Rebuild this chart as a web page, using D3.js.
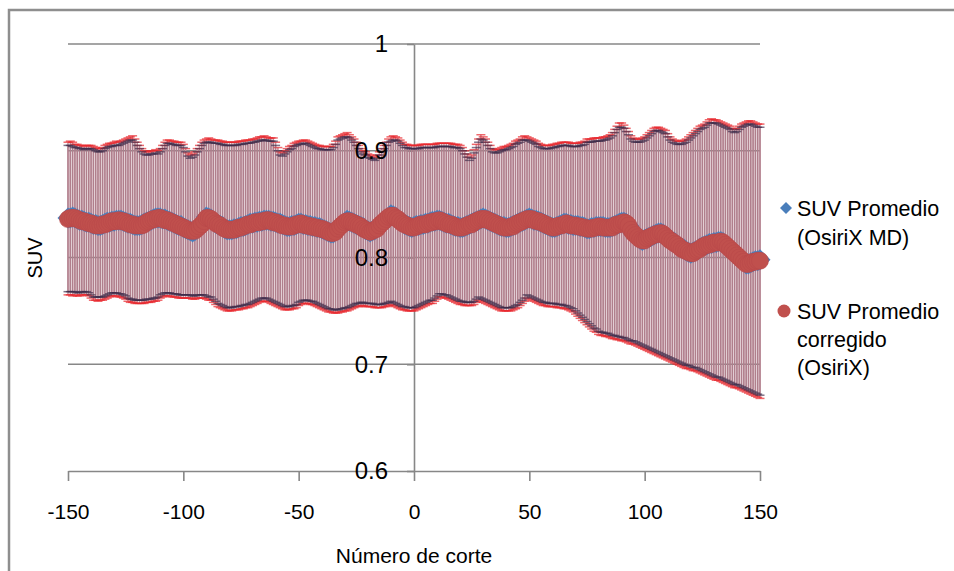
<!DOCTYPE html>
<html><head><meta charset="utf-8">
<script src="https://cdn.jsdelivr.net/npm/d3@7"></script>
<style>html,body{margin:0;padding:0;background:#fff}svg{display:block}text{font-family:"Liberation Sans",Arial,sans-serif}</style>
</head><body><svg id="c" width="954" height="571"></svg>
<script>
const sliceNumbers = [
-150,-149,-148,-147,-146,-145,-144,-143,-142,-141,-140,-139,-138,-137,-136,-135,-134,-133,-132,-131,
-130,-129,-128,-127,-126,-125,-124,-123,-122,-121,-120,-119,-118,-117,-116,-115,-114,-113,-112,-111,
-110,-109,-108,-107,-106,-105,-104,-103,-102,-101,-100,-99,-98,-97,-96,-95,-94,-93,-92,-91,
-90,-89,-88,-87,-86,-85,-84,-83,-82,-81,-80,-79,-78,-77,-76,-75,-74,-73,-72,-71,
-70,-69,-68,-67,-66,-65,-64,-63,-62,-61,-60,-59,-58,-57,-56,-55,-54,-53,-52,-51,
-50,-49,-48,-47,-46,-45,-44,-43,-42,-41,-40,-39,-38,-37,-36,-35,-34,-33,-32,-31,
-30,-29,-28,-27,-26,-25,-24,-23,-22,-21,-20,-19,-18,-17,-16,-15,-14,-13,-12,-11,
-10,-9,-8,-7,-6,-5,-4,-3,-2,-1,0,1,2,3,4,5,6,7,8,9,
10,11,12,13,14,15,16,17,18,19,20,21,22,23,24,25,26,27,28,29,
30,31,32,33,34,35,36,37,38,39,40,41,42,43,44,45,46,47,48,49,
50,51,52,53,54,55,56,57,58,59,60,61,62,63,64,65,66,67,68,69,
70,71,72,73,74,75,76,77,78,79,80,81,82,83,84,85,86,87,88,89,
90,91,92,93,94,95,96,97,98,99,100,101,102,103,104,105,106,107,108,109,
110,111,112,113,114,115,116,117,118,119,120,121,122,123,124,125,126,127,128,129,
130,131,132,133,134,135,136,137,138,139,140,141,142,143,144,145,146,147,148,149,150];

// SUV Promedio (OsiriX MD)
const mdMean = [
.837,.837,.838,.837,.836,.835,.835,.834,.833,.833, .832,.831,.831,.830,.830,.831,.832,.833,.833,.834,
.834,.835,.835,.835,.834,.833,.832,.832,.831,.830, .830,.830,.831,.832,.833,.834,.835,.836,.837,.837,
.837,.836,.836,.835,.834,.833,.832,.831,.830,.830, .828,.827,.826,.825,.824,.825,.827,.829,.831,.834,
.838,.837,.836,.834,.832,.831,.830,.829,.827,.826, .826,.826,.827,.827,.828,.829,.829,.830,.831,.832,
.832,.833,.833,.834,.834,.835,.835,.835,.834,.834, .833,.832,.832,.831,.830,.829,.829,.830,.830,.831,
.832,.832,.831,.831,.830,.830,.829,.829,.828,.828, .827,.826,.825,.824,.823,.823,.825,.827,.829,.831,
.833,.835,.834,.833,.832,.831,.830,.829,.828,.826, .825,.824,.825,.826,.828,.830,.832,.834,.836,.838,
.840,.839,.838,.836,.834,.833,.831,.830,.829,.828, .829,.830,.830,.831,.831,.832,.832,.833,.834,.834,
.835,.835,.834,.833,.832,.832,.831,.830,.829,.829, .828,.828,.829,.830,.831,.832,.833,.834,.835,.836,
.837,.836,.835,.834,.833,.832,.831,.830,.829,.829, .828,.828,.829,.830,.831,.832,.833,.834,.835,.836,
.837,.836,.835,.835,.834,.833,.832,.831,.830,.829, .828,.828,.829,.830,.831,.832,.832,.831,.831,.830,
.830,.830,.829,.829,.828,.827,.827,.828,.828,.829, .829,.829,.829,.828,.828,.828,.829,.830,.831,.832,
.833,.833,.832,.830,.827,.823,.821,.819,.817,.816, .817,.818,.819,.820,.821,.822,.823,.823,.822,.820,
.818,.817,.815,.814,.812,.810,.809,.808,.806,.805, .804,.805,.806,.807,.809,.810,.811,.812,.813,.813,
.814,.814,.815,.815,.814,.812,.810,.808,.806,.804, .802,.800,.798,.796,.794,.794,.795,.796,.797,.797,
.798];
const mdHigh = [
.905,.905,.904,.903,.903,.902,.902,.901,.902,.902, .902,.901,.900,.899,.899,.900,.902,.903,.904,.904,
.905,.905,.905,.906,.907,.908,.909,.910,.910,.908, .905,.902,.899,.897,.896,.896,.897,.897,.898,.897,
.899,.902,.905,.907,.907,.906,.906,.905,.905,.905, .903,.899,.895,.893,.894,.896,.899,.902,.905,.907,
.908,.908,.908,.907,.907,.907,.906,.906,.905,.905, .905,.905,.905,.905,.906,.906,.906,.907,.907,.907,
.908,.908,.909,.909,.910,.910,.910,.909,.909,.909, .905,.900,.896,.895,.897,.899,.901,.902,.904,.905,
.906,.906,.907,.907,.906,.905,.904,.903,.902,.902, .901,.901,.901,.901,.901,.903,.906,.910,.911,.912,
.913,.913,.912,.910,.908,.905,.902,.899,.897,.896, .894,.893,.892,.891,.893,.896,.899,.902,.905,.908,
.909,.910,.910,.909,.907,.905,.903,.903,.902,.902, .902,.902,.902,.903,.903,.903,.903,.903,.903,.903,
.904,.904,.904,.904,.904,.904,.904,.903,.903,.903, .902,.900,.897,.894,.891,.893,.898,.903,.908,.911,
.910,.908,.905,.902,.899,.898,.898,.899,.900,.901, .901,.902,.903,.904,.906,.907,.908,.910,.910,.910,
.909,.908,.907,.906,.904,.903,.902,.902,.902,.902, .903,.903,.904,.904,.905,.905,.905,.905,.904,.904,
.904,.904,.905,.905,.906,.908,.908,.908,.909,.909, .909,.909,.910,.910,.911,.912,.914,.917,.920,.922,
.922,.921,.918,.915,.911,.909,.908,.908,.908,.909, .910,.912,.914,.916,.918,.919,.919,.918,.917,.916,
.913,.910,.908,.907,.906,.906,.906,.907,.908,.910, .912,.914,.916,.918,.920,.921,.922,.924,.926,.926,
.926,.926,.925,.924,.923,.922,.921,.920,.918,.917, .918,.920,.922,.923,.924,.925,.925,.924,.923,.922,
.922];
const mdLow = [
.768,.768,.768,.768,.767,.767,.768,.768,.768,.767, .765,.763,.763,.763,.763,.763,.764,.765,.766,.767,
.767,.767,.766,.766,.765,.764,.762,.761,.761,.760, .760,.760,.760,.760,.761,.761,.761,.762,.762,.763,
.765,.766,.767,.767,.767,.766,.766,.766,.765,.765, .765,.765,.765,.765,.764,.764,.765,.765,.765,.765,
.764,.763,.763,.761,.759,.757,.756,.755,.754,.753, .753,.753,.754,.754,.754,.755,.755,.756,.756,.757,
.758,.759,.760,.761,.762,.762,.762,.761,.760,.759, .758,.757,.756,.755,.754,.754,.754,.755,.755,.756,
.758,.759,.760,.760,.760,.759,.759,.758,.757,.756, .755,.754,.753,.752,.752,.751,.751,.751,.752,.752,
.753,.753,.754,.755,.756,.757,.757,.758,.758,.757, .757,.757,.757,.756,.756,.756,.756,.757,.757,.758,
.759,.758,.757,.756,.755,.754,.754,.753,.753,.753, .753,.754,.755,.756,.757,.758,.759,.760,.760,.762,
.764,.766,.766,.765,.765,.764,.763,.762,.761,.760, .759,.759,.758,.758,.758,.758,.759,.761,.763,.762,
.761,.760,.759,.758,.757,.756,.755,.754,.753,.753, .753,.753,.753,.754,.755,.756,.758,.760,.762,.765,
.764,.763,.762,.761,.760,.759,.758,.758,.757,.757, .757,.757,.756,.756,.756,.755,.755,.754,.753,.752,
.750,.748,.746,.744,.742,.740,.738,.736,.734,.733, .731,.730,.730,.729,.729,.728,.727,.727,.726,.726,
.725,.725,.724,.723,.722,.722,.721,.720,.719,.718, .717,.716,.715,.714,.713,.712,.711,.710,.709,.708,
.707,.706,.705,.704,.703,.702,.701,.700,.699,.699, .698,.697,.697,.696,.695,.694,.693,.692,.691,.690,
.689,.688,.688,.687,.686,.685,.684,.683,.682,.681, .681,.680,.679,.678,.677,.676,.675,.674,.673,.672,
.671];

// SUV Promedio corregido (OsiriX)
const corrMean = [
.836,.837,.837,.837,.836,.835,.834,.834,.833,.832, .832,.831,.830,.830,.830,.831,.831,.832,.833,.834,
.834,.834,.835,.834,.834,.833,.832,.831,.831,.830, .830,.830,.830,.831,.833,.834,.835,.836,.836,.837,
.837,.836,.835,.835,.834,.833,.832,.831,.830,.829, .828,.827,.826,.825,.825,.825,.827,.829,.831,.834,
.837,.837,.836,.834,.832,.831,.830,.828,.827,.826, .826,.826,.826,.827,.828,.828,.829,.830,.831,.831,
.832,.833,.833,.833,.834,.834,.835,.835,.834,.833, .833,.832,.831,.830,.830,.829,.829,.829,.830,.831,
.831,.832,.831,.830,.830,.829,.829,.828,.828,.827, .827,.826,.825,.824,.823,.823,.824,.827,.829,.831,
.833,.834,.834,.833,.832,.831,.830,.829,.827,.826, .825,.824,.825,.826,.827,.830,.832,.834,.836,.838,
.839,.839,.837,.836,.834,.832,.831,.830,.829,.828, .828,.829,.830,.831,.831,.831,.832,.833,.833,.834,
.834,.835,.834,.833,.832,.831,.831,.830,.829,.828, .828,.828,.829,.830,.831,.831,.833,.834,.835,.836,
.836,.836,.835,.834,.833,.832,.831,.830,.829,.828, .828,.828,.829,.829,.831,.832,.833,.834,.835,.836,
.836,.836,.835,.834,.834,.833,.832,.831,.830,.829, .828,.828,.829,.830,.830,.831,.832,.831,.830,.830,
.830,.829,.829,.828,.828,.827,.827,.827,.828,.828, .829,.829,.828,.828,.828,.828,.828,.830,.831,.831,
.832,.833,.832,.830,.826,.823,.821,.819,.817,.816, .816,.818,.819,.820,.821,.822,.822,.823,.822,.820,
.818,.816,.815,.813,.812,.810,.808,.807,.806,.805, .804,.804,.806,.807,.808,.810,.811,.812,.812,.813,
.814,.814,.814,.815,.814,.812,.810,.808,.806,.804, .802,.800,.798,.796,.794,.794,.795,.796,.796,.797,
.797];
const corrHigh = [
.908,.909,.908,.906,.906,.905,.905,.904,.905,.905, .905,.904,.903,.902,.902,.903,.905,.906,.907,.907,
.908,.909,.908,.909,.910,.911,.912,.913,.914,.911, .908,.905,.902,.900,.899,.899,.900,.900,.901,.900,
.902,.905,.908,.910,.910,.909,.909,.908,.908,.908, .906,.902,.898,.896,.897,.899,.902,.905,.908,.910,
.911,.912,.911,.910,.910,.910,.909,.909,.908,.908, .908,.908,.908,.908,.909,.909,.909,.910,.910,.910,
.911,.911,.912,.913,.913,.914,.913,.912,.912,.912, .908,.903,.899,.898,.900,.902,.904,.905,.907,.908,
.909,.909,.910,.910,.909,.908,.907,.906,.905,.905, .904,.904,.904,.904,.904,.906,.909,.913,.914,.915,
.916,.917,.915,.913,.911,.908,.905,.902,.900,.899, .897,.896,.895,.894,.896,.899,.902,.905,.908,.911,
.913,.914,.913,.912,.910,.908,.906,.906,.905,.905, .905,.905,.905,.906,.906,.906,.906,.906,.906,.906,
.907,.907,.907,.907,.907,.907,.907,.906,.906,.906, .905,.903,.900,.897,.894,.896,.901,.906,.911,.915,
.913,.911,.908,.905,.902,.901,.901,.902,.903,.904, .904,.905,.906,.907,.909,.910,.911,.913,.914,.913,
.912,.911,.910,.909,.907,.906,.905,.905,.905,.905, .906,.906,.907,.907,.908,.908,.908,.908,.907,.907,
.907,.907,.908,.908,.909,.911,.911,.911,.912,.912, .912,.912,.913,.913,.914,.915,.917,.920,.923,.926,
.926,.924,.921,.918,.914,.912,.911,.911,.911,.912, .913,.915,.917,.919,.921,.922,.922,.921,.920,.919,
.916,.913,.911,.910,.909,.909,.909,.910,.911,.913, .915,.917,.919,.921,.923,.924,.925,.927,.929,.930,
.929,.929,.928,.927,.926,.925,.924,.923,.921,.920, .921,.923,.925,.926,.927,.928,.928,.927,.926,.925,
.925];
const corrLow = [
.765,.765,.764,.765,.764,.764,.765,.765,.765,.764, .762,.760,.760,.759,.760,.760,.761,.762,.763,.764,
.764,.764,.763,.763,.762,.761,.759,.758,.758,.757, .757,.757,.757,.757,.758,.758,.758,.759,.759,.760,
.762,.763,.764,.764,.764,.763,.763,.763,.762,.762, .762,.762,.762,.762,.761,.761,.762,.762,.762,.762,
.761,.760,.760,.758,.756,.754,.753,.752,.751,.750, .750,.750,.751,.751,.751,.752,.752,.753,.753,.754,
.755,.756,.757,.758,.759,.759,.759,.758,.757,.756, .755,.754,.753,.752,.751,.751,.751,.752,.752,.753,
.755,.756,.757,.757,.757,.756,.756,.755,.754,.753, .752,.751,.750,.749,.749,.748,.748,.748,.749,.749,
.750,.750,.751,.752,.753,.754,.754,.755,.755,.754, .754,.754,.754,.753,.753,.753,.753,.754,.754,.755,
.756,.755,.754,.753,.752,.751,.751,.750,.750,.750, .750,.751,.752,.753,.754,.755,.756,.757,.757,.759,
.761,.763,.763,.762,.762,.761,.760,.759,.758,.757, .756,.756,.755,.755,.755,.755,.756,.758,.760,.759,
.758,.757,.756,.755,.754,.753,.752,.751,.750,.750, .750,.750,.750,.751,.752,.753,.755,.757,.759,.762,
.761,.760,.759,.758,.757,.756,.755,.755,.754,.754, .754,.754,.753,.753,.753,.752,.752,.751,.750,.749,
.747,.745,.743,.741,.739,.737,.735,.733,.731,.730, .728,.727,.727,.726,.726,.725,.724,.724,.723,.723,
.722,.722,.721,.720,.719,.719,.718,.717,.716,.715, .714,.713,.712,.711,.710,.709,.708,.707,.706,.705,
.704,.703,.702,.701,.700,.699,.698,.697,.696,.696, .695,.694,.694,.693,.692,.691,.690,.689,.688,.687,
.686,.685,.685,.684,.683,.682,.681,.680,.679,.678, .678,.677,.676,.675,.674,.673,.672,.671,.670,.669,
.668];

const xTicks = [-150, -100, -50, 0, 50, 100, 150];
const yTicks = [0.6, 0.7, 0.8, 0.9, 1];
const yTickLabels = ["0.6", "0.7", "0.8", "0.9", "1"];
const seriesNames = [["SUV Promedio", "(OsiriX MD)"], ["SUV Promedio", "corregido", "(OsiriX)"]];
const xTitle = "Número de corte";
const yTitle = "SUV";

const svg = d3.select("#c");
const x = d3.scaleLinear().domain([-150, 150]).range([68, 760]);
const y = d3.scaleLinear().domain([0.6, 1]).range([471, 44]);
const gray = "#878787";

// outer chart border
svg.append("rect").attr("x", 9).attr("y", 10).attr("width", 980).attr("height", 600)
  .attr("fill", "none").attr("stroke", "#8e8e8e").attr("stroke-width", 2.5);

// gridlines
svg.append("g").selectAll("line").data(yTicks.slice(1)).join("line")
  .attr("x1", x(-150)).attr("x2", x(150)).attr("y1", d => y(d)).attr("y2", d => y(d))
  .attr("stroke", gray).attr("stroke-width", 1.6);

// axes
const xAxis = svg.append("g").attr("transform", `translate(0,${y(0.6)})`)
  .call(d3.axisBottom(x).tickValues(xTicks).tickSize(10).tickSizeOuter(0).tickFormat(d => String(d)));
xAxis.select(".domain").attr("stroke", gray).attr("stroke-width", 1.6);
xAxis.selectAll(".tick line").attr("stroke", gray).attr("stroke-width", 1.6);
xAxis.selectAll(".tick text").attr("y", 41).attr("dy", "0.35em").attr("font-size", 21).attr("fill", "#000")
  .style("font-family", '"Liberation Sans", Arial, sans-serif');

const yAxis = svg.append("g").attr("transform", `translate(${x(0)},0)`)
  .call(d3.axisLeft(y).tickValues(yTicks).tickSize(7).tickSizeOuter(0).tickFormat((d, i) => yTickLabels[i]));
yAxis.select(".domain").attr("stroke", gray).attr("stroke-width", 1.6);
yAxis.selectAll(".tick line").attr("stroke", gray).attr("stroke-width", 1.6);
yAxis.selectAll(".tick text").remove();

// error bars
function errorBars(hi, lo, vColor, vOpacity, vWidth, capColor, capOpacity) {
  const g = svg.append("g");
  const gv = g.append("g").attr("stroke", vColor).attr("stroke-width", vWidth).attr("stroke-opacity", vOpacity);
  const gc = g.append("g").attr("stroke", capColor).attr("stroke-width", 1.5).attr("stroke-opacity", capOpacity);
  sliceNumbers.forEach((s, i) => {
    const cx = x(s);
    gv.append("line").attr("x1", cx).attr("x2", cx).attr("y1", y(lo[i])).attr("y2", y(hi[i]));
    gc.append("line").attr("x1", cx - 4.5).attr("x2", cx + 4.5).attr("y1", y(lo[i])).attr("y2", y(lo[i]));
    gc.append("line").attr("x1", cx - 4.5).attr("x2", cx + 4.5).attr("y1", y(hi[i])).attr("y2", y(hi[i]));
  });
}
errorBars(corrHigh, corrLow, "#c4909c", 1, 1.6, "#e8262c", 0.7);
errorBars(mdHigh, mdLow, "#9c6c7c", 0.5, 1.6, "#3a2a48", 0.65);

// markers
const diamond = r => `M0,${-r}L${r},0L0,${r}L${-r},0Z`;
svg.append("g").selectAll("path").data(sliceNumbers).join("path")
  .attr("d", diamond(10.5)).attr("transform", (d, i) => `translate(${x(d)},${y(mdMean[i])})`)
  .attr("fill", "#4a7ebb");
svg.append("g").selectAll("circle").data(sliceNumbers).join("circle")
  .attr("cx", d => x(d)).attr("cy", (d, i) => y(corrMean[i])).attr("r", 8.5)
  .attr("fill", "#c0504d").attr("stroke", "#b8484a").attr("stroke-width", 0.6);

// y tick labels on top
svg.append("g").selectAll("text").data(yTicks).join("text")
  .attr("x", x(0) - 26).attr("y", d => y(d)).attr("dy", "0.35em").attr("text-anchor", "end")
  .attr("font-size", 24).attr("fill", "#000").text((d, i) => yTickLabels[i]);

// titles
svg.append("text").attr("x", x(0)).attr("y", 556).attr("dy", "0.35em").attr("text-anchor", "middle")
  .attr("font-size", 21).text(xTitle);
svg.append("text").attr("transform", "translate(35,258) rotate(-90)").attr("dy", "0.35em")
  .attr("text-anchor", "middle").attr("font-size", 20).text(yTitle);

// legend
const leg = svg.append("g");
leg.append("path").attr("d", diamond(6)).attr("transform", "translate(786,208)").attr("fill", "#4a7ebb");
seriesNames[0].forEach((t, i) => leg.append("text").attr("x", 797).attr("y", 208 + i * 29)
  .attr("dy", "0.35em").attr("font-size", 21.5).text(t));
leg.append("circle").attr("cx", 784).attr("cy", 311).attr("r", 6.5).attr("fill", "#c0504d");
seriesNames[1].forEach((t, i) => leg.append("text").attr("x", 797).attr("y", 311 + i * 28)
  .attr("dy", "0.35em").attr("font-size", 21.5).text(t));
</script></body></html>
